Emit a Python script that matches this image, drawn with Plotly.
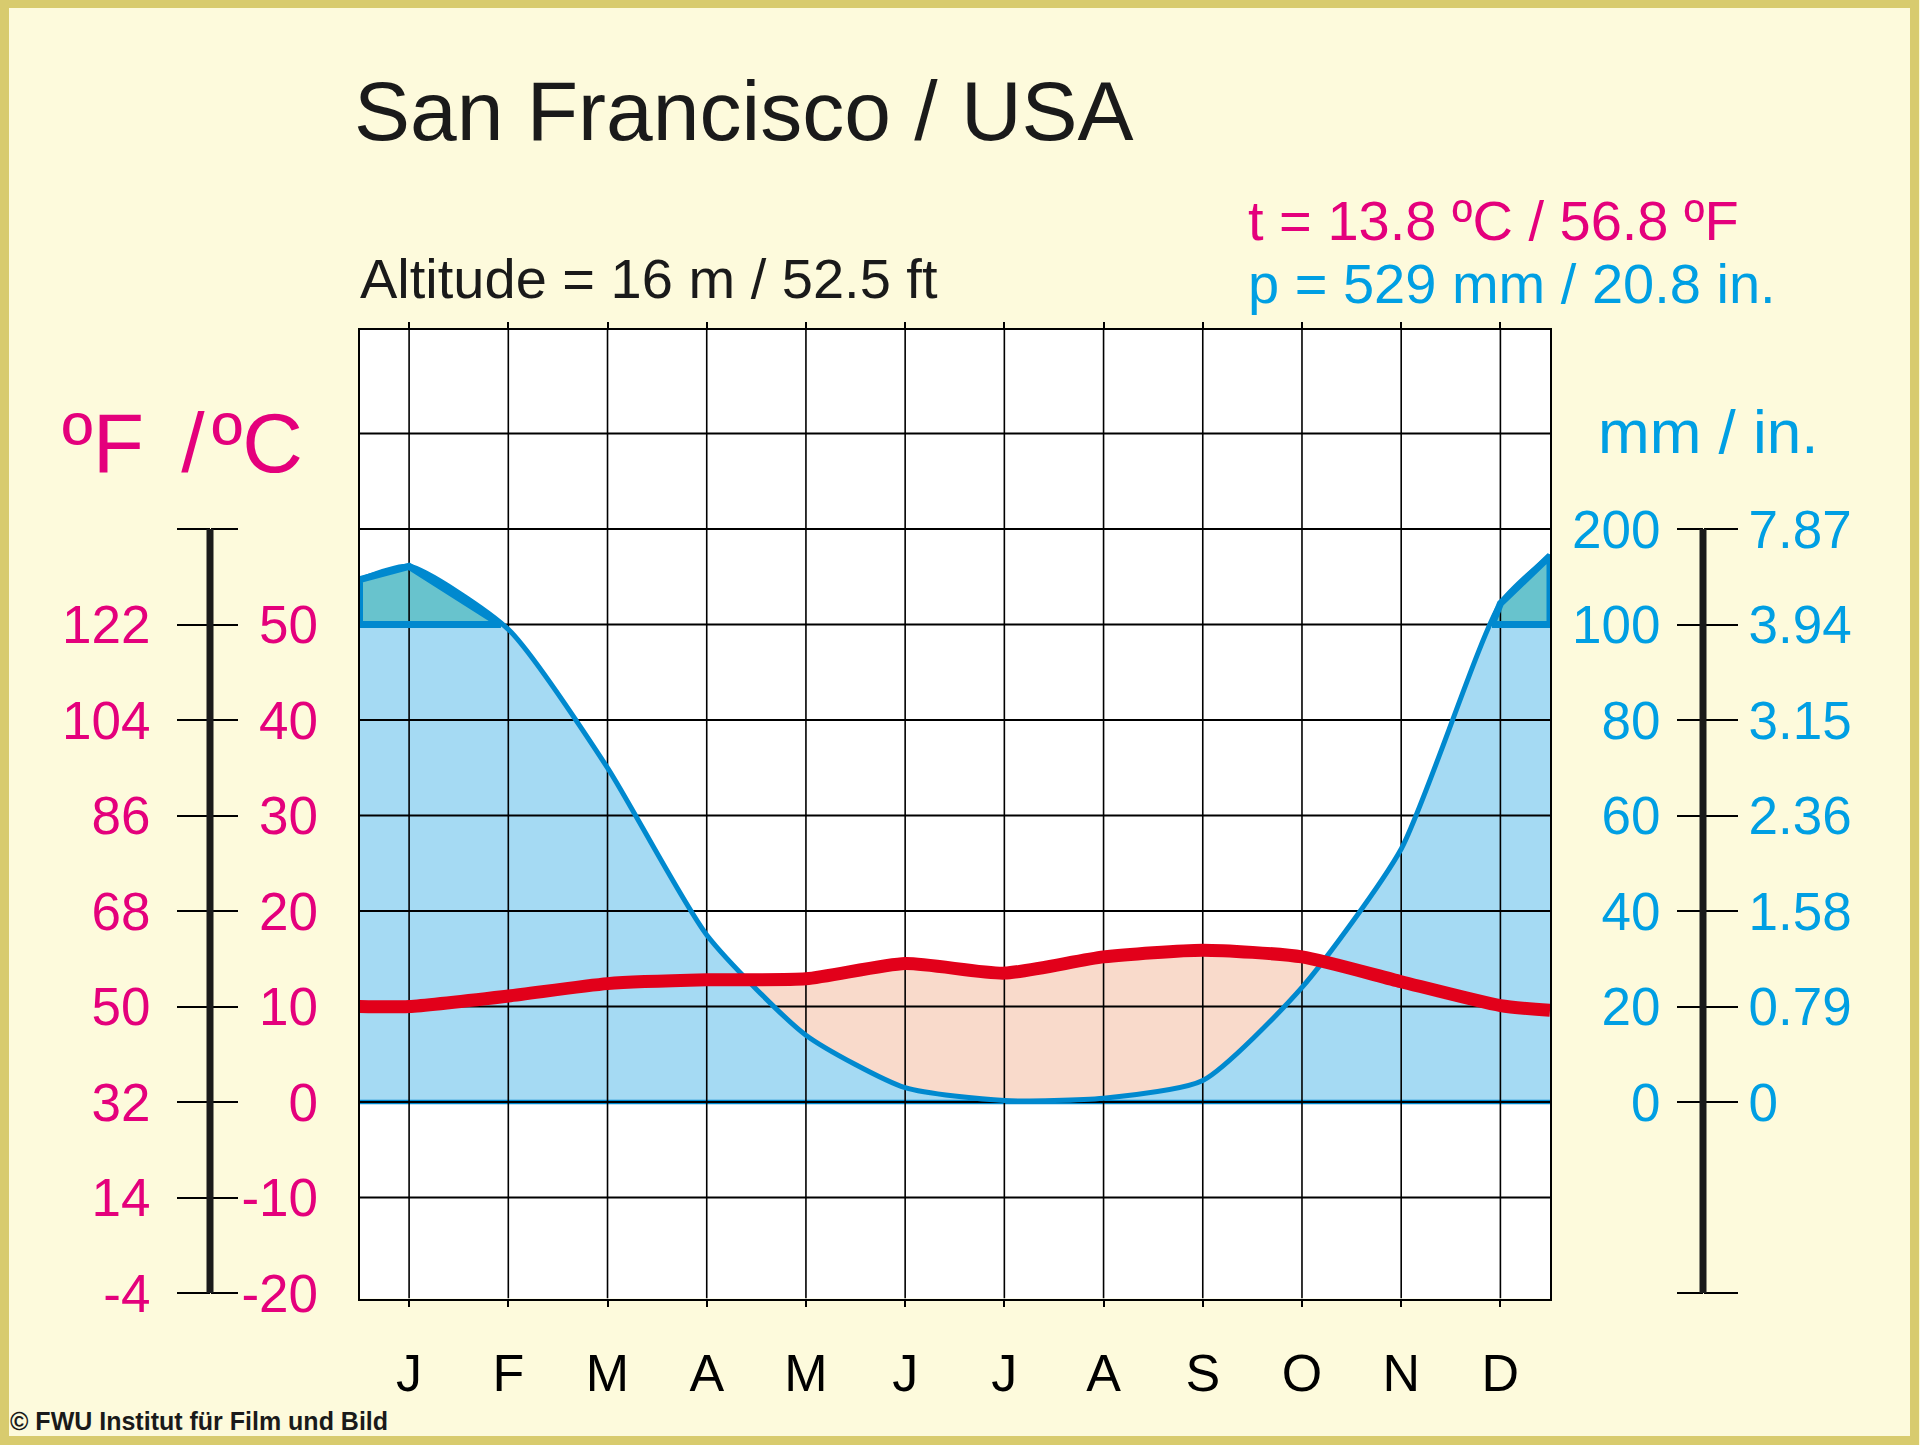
import plotly.graph_objects as go

W, H = 1920, 1445

# ---------------- data ----------------
months = list(range(1, 13))
month_labels = ['J', 'F', 'M', 'A', 'M', 'J', 'J', 'A', 'S', 'O', 'N', 'D']
temp_c = [10.0, 11.1, 12.4, 12.8, 12.9, 14.5, 13.5, 15.2, 15.9, 15.2, 12.6, 10.1]
precip_mm = [161, 99, 70, 35, 14, 3, 0.3, 0.8, 4.5, 24, 53, 122]
frame_x = [0.5, 12.5]          # curve ends at the left / right frame
temp_frame = [10.0, 9.6]       # temperature read at the frame edges
precip_frame = [147, 172]      # precipitation read at the frame edges

temp_c_ticks = [-20, -10, 0, 10, 20, 30, 40, 50]
temp_f_labels = ['-4', '14', '32', '50', '68', '86', '104', '122']
precip_mm_ticks = [0, 20, 40, 60, 80, 100, 200]
precip_in_labels = ['0', '0.79', '1.58', '2.36', '3.15', '3.94', '7.87']
grid_levels = [-20, 0, 20, 40, 60, 80, 100, 120, 140]

title = 'San Francisco / USA'
altitude = 'Altitude = 16 m / 52.5 ft'
t_text = 't = 13.8 ºC / 56.8 ºF'
p_text = 'p = 529 mm / 20.8 in.'
credit = '© FWU Institut für Film und Bild'

# ---------------- styles ----------------
FONT = 'Liberation Sans, Arial, sans-serif'
PINK = '#e4007c'
BLUE_TXT = '#009fe3'
BLUE_LINE = '#0089cf'
LIGHT_BLUE = '#a5daf3'
TEAL = '#68c3cd'
SALMON = '#f9dacb'
RED = '#e2001a'
BG = '#fdfadc'
GOLD = '#d8cb6e'
SPL = dict(shape='spline', smoothing=0.6)
Y_RANGE = [-41.15, 161.7]
BAR_TOP = 120


def p2u(mm):
    # Walter-Lieth: 20 mm per grid step up to 100 mm, 100 mm per step above
    return mm if mm <= 100 else 100 + (mm - 100) / 5


def t2u(c):
    return 2 * c


xs = [frame_x[0]] + months + [frame_x[1]]
ty = [t2u(v) for v in [temp_frame[0]] + temp_c + [temp_frame[1]]]
py = [p2u(v) for v in [precip_frame[0]] + precip_mm + [precip_frame[1]]]


def above_polys(xv, yv, level=100):
    polys, cur = [], None
    for i in range(len(xv)):
        if yv[i] > level:
            if cur is None:
                if i > 0:
                    t = (level - yv[i - 1]) / (yv[i] - yv[i - 1])
                    cur = [(xv[i - 1] + t * (xv[i] - xv[i - 1]), level)]
                else:
                    cur = [(xv[i], level)]
            cur.append((xv[i], yv[i]))
        elif cur is not None:
            t = (level - yv[i - 1]) / (yv[i] - yv[i - 1])
            cur.append((xv[i - 1] + t * (xv[i] - xv[i - 1]), level))
            polys.append(cur)
            cur = None
    if cur is not None:
        cur.append((xv[-1], level))
        polys.append(cur)
    return polys


fig = go.Figure()
nohover = dict(hoverinfo='skip', showlegend=False)

# base for salmon fill
fig.add_trace(go.Scatter(x=xs, y=py, mode='lines', line=dict(width=0, **SPL), **nohover))
fig.add_trace(go.Scatter(x=xs, y=ty, mode='lines', fill='tonexty', fillcolor=SALMON,
                         line=dict(width=0, **SPL), **nohover))
# humid area
fig.add_trace(go.Scatter(x=xs, y=py, mode='lines', fill='tozeroy', fillcolor=LIGHT_BLUE,
                         line=dict(width=0, **SPL), **nohover))
polys = above_polys(xs, py)
for poly in polys:
    fig.add_trace(go.Scatter(x=[p[0] for p in poly], y=[p[1] for p in poly], mode='lines',
                             fill='toself', fillcolor=TEAL, line=dict(width=0), **nohover))
# zero baseline
fig.add_trace(go.Scatter(x=frame_x, y=[0, 0], mode='lines',
                         line=dict(color=BLUE_LINE, width=4.5), **nohover))
# grid
gx, gy = [], []
for m in months:
    gx += [m, m, None]
    gy += [Y_RANGE[0], Y_RANGE[1], None]
fig.add_trace(go.Scatter(x=gx, y=gy, mode='lines', line=dict(color='black', width=1.6), **nohover))
hx, hy = [], []
for g in grid_levels:
    hx += [frame_x[0], frame_x[1], None]
    hy += [g, g, None]
fig.add_trace(go.Scatter(x=hx, y=hy, mode='lines', line=dict(color='black', width=2), **nohover))
# precipitation line
fig.add_trace(go.Scatter(x=xs, y=py, mode='lines', line=dict(color=BLUE_LINE, width=5, **SPL), **nohover))
for poly in polys:
    fig.add_trace(go.Scatter(x=[p[0] for p in poly] + [poly[0][0]], y=[p[1] for p in poly] + [poly[0][1]],
                             mode='lines', line=dict(color=BLUE_LINE, width=7), **nohover))
# temperature line
fig.add_trace(go.Scatter(x=xs, y=ty, mode='lines', line=dict(color=RED, width=13, **SPL), **nohover))

# dummy traces for scale axes
for ax in ['y2', 'y3', 'y4', 'y5', 'y6']:
    fig.add_trace(go.Scatter(x=[1], y=[0], yaxis=ax, mode='markers', marker=dict(opacity=0), **nohover))

tick_font_pink = dict(family=FONT, size=53, color=PINK)
tick_font_blue = dict(family=FONT, size=53, color=BLUE_TXT)
base_free = dict(overlaying='y', anchor='free', range=Y_RANGE, showgrid=False, zeroline=False,
                 showline=False, automargin=False, tickcolor='black', tickwidth=2, fixedrange=True)

fig.update_layout(
    width=W, height=H, margin=dict(l=0, r=0, t=0, b=0),
    paper_bgcolor=BG, plot_bgcolor='white', showlegend=False,
    xaxis=dict(domain=[359.5 / W, 1550 / W], range=[0.5, 12.5], tickvals=months, ticktext=month_labels,
               showgrid=False, zeroline=False, showline=True, linecolor='black', linewidth=2,
               mirror='ticks', ticks='outside', ticklen=6, tickwidth=1.5, tickcolor='black',
               tickfont=dict(family=FONT, size=52, color='black'), ticklabelstandoff=22,
               automargin=False, fixedrange=True),
    yaxis=dict(domain=[1 - 1298.5 / H, 1 - 330 / H], range=Y_RANGE, showgrid=False, zeroline=False,
               showline=True, mirror=True, linecolor='black', linewidth=2, showticklabels=False,
               ticks='', automargin=False, fixedrange=True),
    yaxis2=dict(base_free, position=210 / W, side='left', ticks='outside', ticklen=33,
                tickvals=[t2u(c) for c in temp_c_ticks] + [BAR_TOP], ticktext=temp_f_labels + [''],
                tickfont=tick_font_pink, ticklabelstandoff=16),
    yaxis3=dict(base_free, position=210 / W, side='right', ticks='outside', ticklen=27,
                tickvals=[t2u(c) for c in temp_c_ticks] + [BAR_TOP], showticklabels=False),
    yaxis4=dict(base_free, position=318 / W, side='left', ticks='',
                tickvals=[t2u(c) for c in temp_c_ticks], ticktext=[str(c) for c in temp_c_ticks],
                tickfont=tick_font_pink, ticklabelstandoff=0),
    yaxis5=dict(base_free, position=1703 / W, side='left', ticks='outside', ticklen=26,
                tickvals=[p2u(v) for v in precip_mm_ticks] + [-40],
                ticktext=[str(v) for v in precip_mm_ticks] + [''],
                tickfont=tick_font_blue, ticklabelstandoff=6),
    yaxis6=dict(base_free, position=1703 / W, side='right', ticks='outside', ticklen=34,
                tickvals=[p2u(v) for v in precip_mm_ticks] + [-40],
                ticktext=precip_in_labels + [''],
                tickfont=tick_font_blue, ticklabelstandoff=0),
)

# scale bars
for xb in [210, 1703]:
    fig.add_shape(type='line', xref='paper', yref='y', x0=xb / W, x1=xb / W, y0=-40, y1=BAR_TOP,
                  line=dict(color='#1a1a1a', width=7))
# frame
fig.add_shape(type='rect', xref='paper', yref='paper', x0=4.5 / W, x1=1 - 5.5 / W, y0=4.5 / H, y1=1 - 3.5 / H,
              line=dict(color=GOLD, width=9), layer='above')


def note(text, x, y, size, color, anchor='left', bold=False):
    fig.add_annotation(text=f'<b>{text}</b>' if bold else text, xref='paper', yref='paper',
                       x=x / W, y=1 - y / H, xanchor=anchor, yanchor='middle', showarrow=False,
                       font=dict(family=FONT, size=size, color=color))


note(title, 352, 111, 84, '#1a1a1a')
note(altitude, 358, 278, 56, '#1a1a1a')
note(t_text, 1246, 220, 56, PINK)
note(p_text, 1246, 283, 56, BLUE_TXT)
note('ºF\u00a0\u2006/\u200aºC', 60, 443, 84, PINK)
note('mm / in.', 1596, 431, 62, BLUE_TXT)
note(credit, 8, 1421, 25, '#1a1a1a', bold=True)

fig.write_html('out.html', config={'displayModeBar': False},
               post_script="document.body.style.margin='0';document.body.style.overflow='hidden';")
